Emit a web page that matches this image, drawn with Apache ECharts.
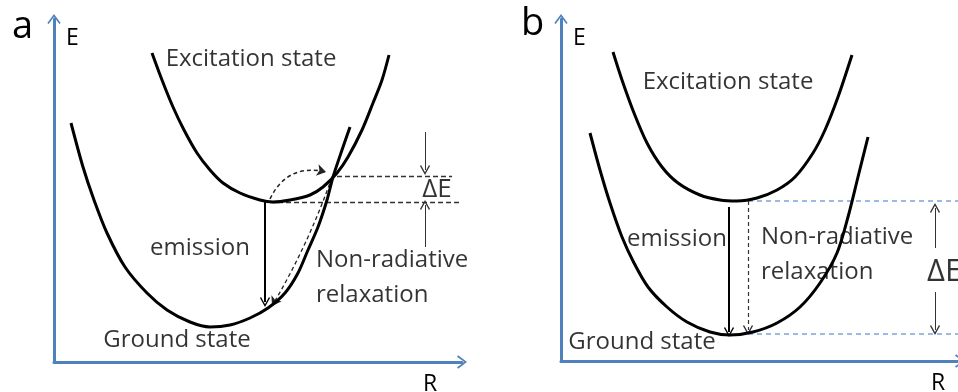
<!DOCTYPE html>
<html>
<head>
<meta charset="utf-8">
<script src="https://cdn.jsdelivr.net/npm/echarts@6/dist/echarts.min.js"></script>
<style>
html,body{margin:0;padding:0;background:#fff;}
#chart{width:958px;height:392px;}
</style>
</head>
<body>
<div id="chart"></div>
<script>
// ---------- data (axis units: R horizontal, E vertical) ----------
// Panel a
const groundA = [[17,239],[29,195],[40,162],[53,129],[71,95],[93,69],[113,52],[136,40],[156,35],[176,37],[196,44],[214,54],[231,69],[244,89],[254,112],[264,135],[273,162],[279,185],[288,212],[296,235]];
const exciteA = [[98,309],[108,282],[119,255],[130,232],[143,209],[156,192],[169,179],[186,169],[206,162],[219,160],[236,162],[256,167],[269,175],[283,189],[294,205],[308,232],[319,259],[328,282],[335,307]];
const levelsA = [[[283,186],[398,186]],[[216,160],[406,160]]];
const emissionA = [[[211,160],[211,60]]];
const hopA = [[[216,163],[272,190]]];
const relaxA = [[[278,185],[218,56]]];
const deltaArrowsA = [[[371,230],[371,192]],[[371,115],[371,157]]];
const labelsA = ['Excitation state','emission','Non-radiative','relaxation','Ground state','ΔE'];
// Panel b
const groundB = [[29,228],[39,191],[49,158],[61,124],[73,98],[87,74],[106,54],[126,39],[149,29],[169,26],[192,29],[216,38],[239,54],[259,78],[276,108],[287,144],[297,184],[307,224]];
const exciteB = [[52,309],[61,281],[73,248],[86,218],[101,194],[117,178],[139,166],[159,161],[176,160],[196,163],[216,171],[234,184],[252,208],[264,231],[277,264],[291,306]];
const levelsB = [[[187,160],[400,160]],[[187,27],[400,27]]];
const emissionB = [[[168,154],[168,29]]];
const relaxB = [[[187,160],[187,31]]];
const deltaArrowsB = [[[374,113],[374,153]],[[374,69],[374,31]]];
const labelsB = ['Excitation state','emission','Non-radiative','relaxation','Ground state','ΔE'];
// axis names / panel letters
const axisNames = {E:'E', R:'R'};
const panelLetters = ['a','b'];

// ---------- layout (anchors of labels, in axis units; align; font size) ----------
const anchorsA = [[197,303,'center',24],[146,114,'center',24],[262,102,'left',24],[262,67,'left',24],[123,22,'center',24],[383,172,'center',26]];
const anchorsB = [[167,279,'center',24],[116,122,'center',24],[200,124,'left',24],[200,89,'left',24],[81,19,'center',24],[366,89,'left',31]];

const BLUE = '#4f81bd';
const FONT = '"Open Sans", "Noto Sans", sans-serif';
const chevron = 'path://M0,0 L6,8 L4.8,9 L0,2.4 L-4.8,9 L-6,8 Z';

function axisPair(idx, w, h, nameGapX){
  return {
    x: {type:'value', gridIndex:idx, min:0, max:w, show:true,
        axisLine:{show:true, onZero:false, lineStyle:{color:BLUE, width:3}, symbol:['none', chevron], symbolSize:[15,10]},
        axisTick:{show:false}, axisLabel:{show:false}, splitLine:{show:false},
        name: axisNames.R, nameLocation:'end', nameGap:nameGapX,
        nameTextStyle:{color:'#000', fontSize:23, fontFamily:FONT, align:'center', verticalAlign:'top', padding:[11,0,0,0]}},
    y: {type:'value', gridIndex:idx, min:0, max:h, show:true,
        axisLine:{show:true, onZero:false, lineStyle:{color:BLUE, width:3}, symbol:['none', chevron], symbolSize:[15,10]},
        axisTick:{show:false}, axisLabel:{show:false}, splitLine:{show:false},
        name: axisNames.E, nameLocation:'end', nameGap:-19,
        nameTextStyle:{color:'#000', fontSize:23, fontFamily:FONT, align:'left', verticalAlign:'middle', padding:[0,0,0,12]}}
  };
}
const axA = axisPair(0, 408, 343, -32);
const axB = axisPair(1, 399, 342, -22);

function curve(data, i){
  return {type:'line', xAxisIndex:i, yAxisIndex:i, data:data, smooth:0.3, symbol:'none',
          lineStyle:{color:'#000', width:3}, z:5, silent:true};
}
function lines(data, i, opt){
  return Object.assign({type:'lines', coordinateSystem:'cartesian2d', xAxisIndex:i, yAxisIndex:i,
          data:data.map(c=>({coords:c})), silent:true, z:4}, opt);
}
function texts(names, anchors, i){
  return {type:'scatter', xAxisIndex:i, yAxisIndex:i, symbolSize:0, itemStyle:{color:'rgba(0,0,0,0)'}, silent:true, z:6, clip:false,
    data: names.map((n,k)=>({name:n, value:[anchors[k][0], anchors[k][1]],
      label:{show:true, position:'inside', formatter:'{b}', align:anchors[k][2], verticalAlign:'middle',
        fontSize: anchors[k][3], fontFamily:FONT, color:'#000'}}))};
}

const option = {
  animation:false,
  backgroundColor:'#fff',
  title: panelLetters.map((t,k)=>({text:t, left: k===0 ? 7 : 516, top: k===0 ? 3 : 0,
      textStyle:{fontSize:38, fontWeight:'normal', fontFamily:FONT, color:'#000'}})),
  grid:[{left:54, top:19, width:408, height:343, outerBoundsMode:'none', containLabel:false},
        {left:561, top:19, width:399, height:342, outerBoundsMode:'none', containLabel:false}],
  xAxis:[axA.x, axB.x],
  yAxis:[axA.y, axB.y],
  series:[
    curve(groundA,0), curve(exciteA,0),
    lines(levelsA,0,{symbol:['none','none'], lineStyle:{color:'#333', width:1.3, type:[5,3], opacity:1}}),
    lines(emissionA,0,{symbol:['none', chevron], symbolSize:[12,10], lineStyle:{color:'#000', width:2, opacity:1}}),
    lines(hopA,0,{symbol:['none','arrow'], symbolSize:[9,9], lineStyle:{color:'#222', width:1.5, type:[4,3], curveness:0.4, opacity:1}}),
    lines(relaxA,0,{symbol:['none','arrow'], symbolSize:[8,9], lineStyle:{color:'#222', width:1.3, type:[4,3], curveness:0.05, opacity:1}}),
    lines(deltaArrowsA,0,{symbol:['none', chevron], symbolSize:[11,10], lineStyle:{color:'#333', width:1, opacity:1}}),
    texts(labelsA, anchorsA, 0),
    curve(groundB,1), curve(exciteB,1),
    lines(levelsB,1,{symbol:['none','none'], lineStyle:{color:'#7aa7dc', width:1.6, type:[5,4], opacity:1}}),
    lines(emissionB,1,{symbol:['none', chevron], symbolSize:[12,10], lineStyle:{color:'#000', width:2, opacity:1}}),
    lines(relaxB,1,{symbol:['none', chevron], symbolSize:[11,10], lineStyle:{color:'#333', width:1.2, type:[4,3], opacity:1}}),
    lines(deltaArrowsB,1,{symbol:['none', chevron], symbolSize:[11,10], lineStyle:{color:'#333', width:1, opacity:1}}),
    texts(labelsB, anchorsB, 1)
  ]
};
const chart = echarts.init(document.getElementById('chart'), null, {renderer:'canvas'});
chart.setOption(option);
</script>
</body>
</html>
